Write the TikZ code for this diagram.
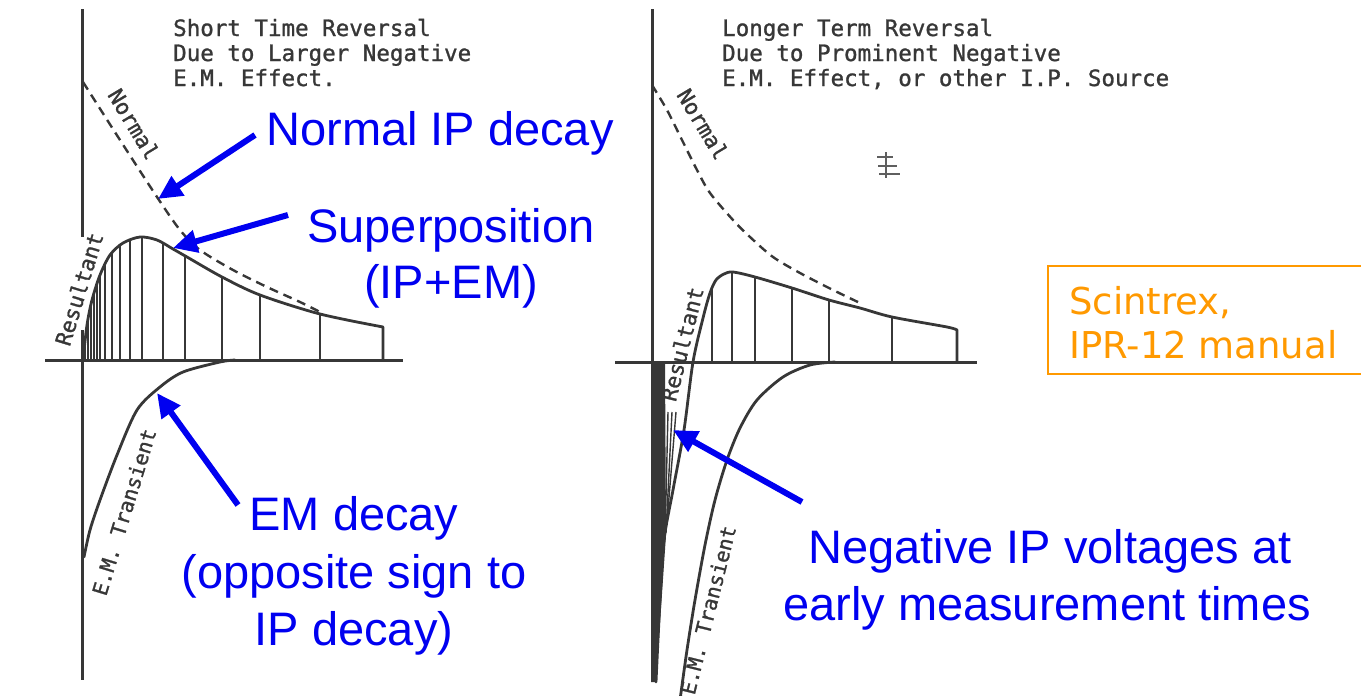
\documentclass[tikz,border=0pt]{standalone}
\usepackage{fontspec}
\setmainfont{Liberation Sans}
\newfontfamily\lettering{DejaVu Sans Mono}[FakeBold=1.2]
\newfontfamily\verd{DejaVu Sans}
\usetikzlibrary{arrows.meta}
\definecolor{ink}{RGB}{55,55,55}
\definecolor{annblue}{RGB}{0,0,240}
\definecolor{orng}{RGB}{255,153,0}
\begin{document}
\begin{tikzpicture}[x=1pt,y=-1pt,
  axisline/.style={ink, line width=3pt},
  curveline/.style={ink, line width=2.8pt, line join=round, line cap=round},
  hatchline/.style={ink, line width=2.2pt},
  thinhatch/.style={ink, line width=1.4pt},
  normcurve/.style={ink, line width=2.4pt, dash pattern=on 9pt off 6pt},
  ann/.style={annblue, font=\fontsize{47}{56}\selectfont, anchor=base, inner sep=0pt},
  annarrow/.style={annblue, line width=6pt, -{Triangle[length=24pt,width=22pt]}},
  titletext/.style={ink, font=\lettering\fontsize{22.5}{25}\selectfont, anchor=base west, inner sep=0pt},
  curvelabel/.style={ink, font=\lettering\fontsize{21.5}{21.5}\selectfont, inner sep=1pt},
  srctext/.style={orng, font=\verd\fontsize{37}{44}\selectfont, anchor=base west, inner sep=0pt},
]
\useasboundingbox (0,0) rectangle (1361,696);

% ================= LEFT PANEL =================
\begin{scope}
\clip plot[smooth] coordinates {(83,360) (87,325) (92,300) (100,275) (110,255) (123,243) (140,237) (157,240) (173,249) (187,257) (222,277) (260,295) (320,314) (383,327)} -- (383,360) -- (83,360) -- cycle;
\foreach \x in {85,88,91,94,97,100,105,112,120,130,142,163,185,222,260,320}
  \draw[hatchline] (\x,362) -- (\x,220);
\end{scope}
\draw[axisline] (82,9) -- (82,237);
\draw[axisline] (82,330) -- (82,680);
\draw[axisline] (45,360) -- (403,360);
\draw[curveline] plot[smooth] coordinates {(83,360) (87,325) (92,300) (100,275) (110,255) (123,243) (140,237) (157,240) (173,249) (187,257) (222,277) (260,295) (320,314) (383,327)} -- (383,360);
\draw[normcurve] plot[smooth] coordinates {(83,82) (120,140) (157,197) (180,230) (200,250) (233,270) (267,287) (300,302) (320,312)};
\draw[curveline] plot[smooth] coordinates {(84,557) (90,530) (100,500) (117,455) (137,410) (160,387) (183,372) (220,362) (235,360)};
\node[curvelabel, rotate=-59] (lnorm) at (134,124) {Normal};
\node[curvelabel, rotate=73] (lres) at (79,289) {Resultant};
\node[curvelabel, rotate=73, font=\lettering\fontsize{20.5}{20.5}\selectfont] (lem) at (124,512) {E.M. Transient};
\node[titletext] (lt1) at (173,36) {Short Time Reversal};
\node[titletext] (lt2) at (173,61) {Due to Larger Negative};
\node[titletext] (lt3) at (173,86) {E.M. Effect.};

% ================= RIGHT PANEL =================
\begin{scope}
\clip plot[smooth] coordinates {(693,362) (703,318) (710,293) (716,280) (724,274) (733,272) (755,277) (792,288) (829,300) (860,308) (892,317) (947,327) (957,330)} -- (957,362) -- cycle;
\foreach \x in {712,732,755,792,829,892}
  \draw[hatchline] (\x,364) -- (\x,250);
\end{scope}
\fill[ink] (651,362) -- (665,362) -- (666,535) -- (656,682) -- (651,682) -- cycle;
\draw[thinhatch] (668,412) -- (665,540);
\draw[thinhatch] (672,412) -- (666,533);
\draw[thinhatch] (676,412) -- (667,522);
\draw[axisline] (652,9) -- (652,362);
\draw[axisline] (615,362) -- (977,362);
\draw[curveline] plot[smooth] coordinates {(656,682) (660,600) (664,540) (673,490) (684,430) (693,362) (703,318) (710,293) (716,280) (724,274) (733,272) (755,277) (792,288) (829,300) (860,308) (892,317) (947,327) (957,330)} -- (957,362);
\draw[normcurve] plot[smooth] coordinates {(652,85) (667,110) (682,140) (697,170) (710,193) (733,220) (750,237) (773,257) (800,273) (833,290) (860,303)};
\draw[curveline] plot[smooth] coordinates {(835,362) (810,365) (783,377) (757,400) (740,428) (727,460) (715,500) (705,545) (695,600) (687,650) (680,700)};
\node[curvelabel, rotate=-59] (rnorm) at (703,124) {Normal};
\node[curvelabel, rotate=76] (rres) at (682,344) {Resultant};
\node[curvelabel, rotate=76, font=\lettering\fontsize{20.5}{20.5}\selectfont] (rem) at (708,610) {E.M. Transient};
\draw[ink!80, line width=2.5pt] (877,157) -- (893,157) (878,166) -- (897,166) (879,174) -- (900,174) (886,152) -- (886,178);
\node[titletext] (rt1) at (722,36) {Longer Term Reversal};
\node[titletext] (rt2) at (722,61) {Due to Prominent Negative};
\node[titletext] (rt3) at (722,86) {E.M. Effect, or other I.P. Source};

% ================= ANNOTATIONS =================
\node[ann] (normtxt) at (440,145) {Normal IP decay};
\node[ann] (sup1) at (451,242) {Superposition};
\node[ann] (sup2) at (451,298) {(IP+EM)};
\node[ann] (em1) at (354,530) {EM decay};
\node[ann] (em2) at (354,588) {(opposite sign to};
\node[ann] (em3) at (354,645) {IP decay)};
\node[ann] (neg1) at (1050,563) {Negative IP voltages at};
\node[ann] (neg2) at (1047,620) {early measurement times};

\coordinate (a1s) at (255,135); \coordinate (a1e) at (158,199);
\coordinate (a2s) at (288,215); \coordinate (a2e) at (173,248);
\coordinate (a3s) at (238,505); \coordinate (a3e) at (157,393);
\coordinate (a4s) at (802,502); \coordinate (a4e) at (673,430);
\draw[annarrow] (a1s) -- (a1e);
\draw[annarrow] (a2s) -- (a2e);
\draw[annarrow] (a3s) -- (a3e);
\draw[annarrow] (a4s) -- (a4e);

\draw[orng, line width=2pt] (1363,266) -- (1048,266) -- (1048,374) -- (1363,374);
\node[srctext] (src1) at (1069,314) {Scintrex,};
\node[srctext] (src2) at (1069,358) {IPR-12 manual};
\end{tikzpicture}
\end{document}
